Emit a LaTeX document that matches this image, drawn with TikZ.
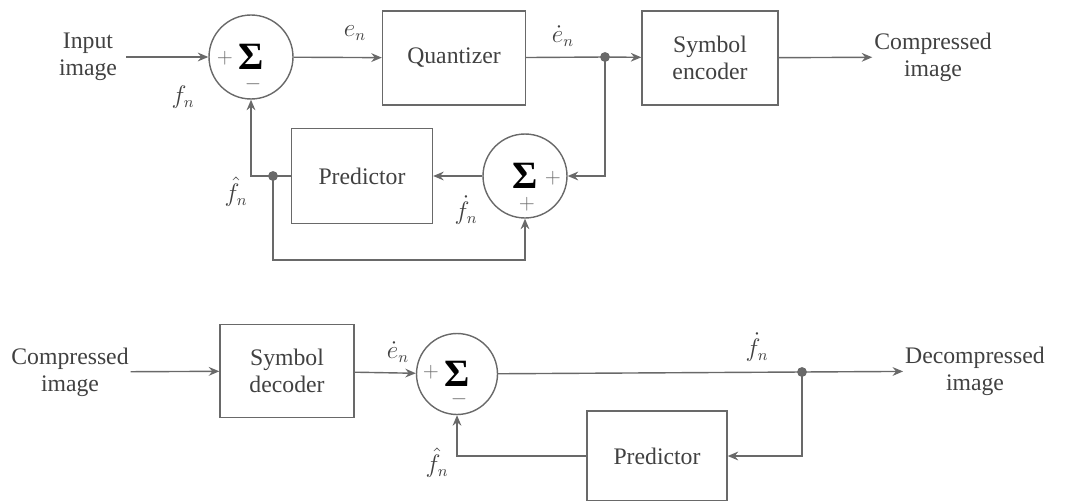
\documentclass[tikz,border=0pt]{standalone}
\usepackage{fontspec}
\setmainfont{Liberation Serif}
\usetikzlibrary{arrows.meta, positioning}
\definecolor{linegray}{RGB}{105,105,105}
\definecolor{textgray}{RGB}{65,65,65}
\tikzset{
  block/.style={draw=linegray, line width=0.8pt, minimum height=1.88cm, text=textgray,
    align=center, font=\fontsize{13.5}{15.5}\selectfont},
  sumnode/.style={circle, draw=linegray, line width=0.8pt, minimum size=1.68cm, inner sep=0pt,
    font=\fontsize{22}{26}\selectfont\bfseries},
  sign/.style={text=linegray, font=\fontsize{13}{14}\selectfont, inner sep=0.5pt},
  lbl/.style={text=textgray, align=center, font=\fontsize{13.5}{15.5}\selectfont, inner sep=1pt},
  flow/.style={-{Stealth[length=6pt, width=5pt, inset=2pt]}, draw=linegray, line width=0.8pt},
  wire/.style={draw=linegray, line width=0.8pt},
}

\begin{document}
\begin{tikzpicture}[x=0.02cm, y=-0.02cm]
  \useasboundingbox (0,0) rectangle (1074,500);

  % encoder
  \node[lbl] (in) at (88,57) {Input\\image};
  \node[sumnode] (s1) at (251,57) {Σ};
  \node[block, minimum width=2.86cm] (quant) at (454,58) {Quantizer};
  \coordinate (d1) at (605,57);
  \node[block, minimum width=2.72cm] (enc) at (710,58) {Symbol\\encoder};
  \node[lbl] (out) at (933,57) {Compressed\\image};
  \node[sumnode] (s2) at (525,176) {Σ\hspace{6pt}};
  \node[block, minimum width=2.82cm, minimum height=1.9cm] (pred1) at (362,176) {Predictor};
  \coordinate (d2) at (273,176);
  \coordinate (b2) at (273,260);

  \node[sign] (s1p) at (225,58) {$+$};
  \node[sign] (s1m) at (253,84) {$-$};
  \node[sign] (s2p) at (553,178) {$+$};
  \node[sign] (s2q) at (527,204) {$+$};

  \node[lbl] (en) at (355,33) {$e_n$};
  \node[lbl] (edot1) at (563,36) {$\dot e_n$};
  \node[lbl] (fn) at (183,97) {$f_n$};
  \node[lbl] (fhat1) at (236,192) {$\hat f_n$};
  \node[lbl] (fdot1) at (466,210) {$\dot f_n$};

  \draw[flow] ([xshift=4pt]in.east) -- (s1);
  \draw[flow] (s1) -- (quant);
  \draw[wire] (quant) -- (d1);
  \draw[flow] (d1) -- (enc);
  \draw[flow] (enc) -- (out);
  \draw[flow] (d1) |- (s2.east);
  \draw[flow] (s2) -- (pred1);
  \draw[wire] (pred1) -- (d2);
  \draw[flow] (d2) -| (s1.south);
  \draw[flow] (d2) -- (b2) -| (s2.south);

  % decoder
  \node[lbl] (cin) at (70,372) {Compressed\\image};
  \node[block, minimum width=2.68cm, minimum height=1.86cm] (dec) at (287,371) {Symbol\\decoder};
  \node[sumnode, minimum size=1.62cm] (s3) at (457,374) {Σ};
  \coordinate (d3) at (802,372);
  \node[lbl] (dout) at (975,371) {Decompressed\\image};
  \node[block, minimum width=2.8cm, minimum height=1.8cm] (pred2) at (657,456) {Predictor};

  \node[sign] (s3p) at (431,372) {$+$};
  \node[sign] (s3m) at (459,399) {$-$};

  \node[lbl] (edot2) at (398,352) {$\dot e_n$};
  \node[lbl] (fdot2) at (757,347) {$\dot f_n$};
  \node[lbl] (fhat2) at (437,463) {$\hat f_n$};

  \draw[flow] (cin) -- (dec);
  \draw[flow] (dec) -- (s3);
  \draw[wire] (s3) -- (d3);
  \draw[flow] (d3) -- (dout);
  \draw[flow] (d3) |- (pred2.east);
  \draw[flow] (pred2.west) -| (s3.south);

  \foreach \d in {d1,d2,d3}
    \fill[linegray] (\d) circle (2.8pt);
\end{tikzpicture}
\end{document}
